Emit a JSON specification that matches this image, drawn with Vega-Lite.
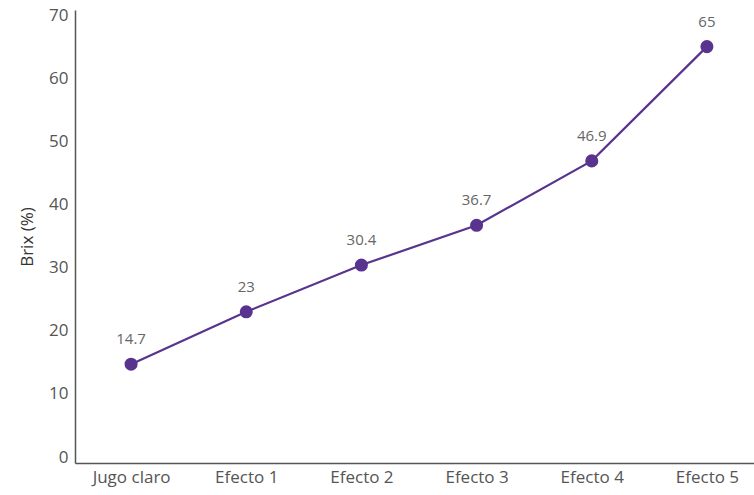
{
  "$schema": "https://vega.github.io/schema/vega-lite/v6.json",
  "autosize": {"type": "none"},
  "padding": {"left": 75, "top": 10, "right": 0, "bottom": 32},
  "width": 679,
  "height": 453,
  "background": "white",
  "config": {"view": {"stroke": null}, "font": "Open Sans"},
  "data": {"values": [
    {"etapa": "Jugo claro", "brix": 14.7},
    {"etapa": "Efecto 1", "brix": 23},
    {"etapa": "Efecto 2", "brix": 30.4},
    {"etapa": "Efecto 3", "brix": 36.7},
    {"etapa": "Efecto 4", "brix": 46.9},
    {"etapa": "Efecto 5", "brix": 65}
  ]},
  "encoding": {
    "x": {"field": "etapa", "type": "ordinal", "sort": null,
      "scale": {"type": "point", "padding": 0.487, "range": [0, 688]},
      "axis": {"title": null, "labelAngle": 0, "ticks": false, "labelFontSize": 17, "labelColor": "#555555", "labelFont": "Open Sans", "labelPadding": 6, "domainColor": "#555555", "domainWidth": 1.5, "grid": false}},
    "y": {"field": "brix", "type": "quantitative",
      "scale": {"domain": [-0.95, 70.8], "nice": false, "zero": false},
      "axis": {"title": "Brix (%)", "values": [0, 10, 20, 30, 40, 50, 60, 70], "ticks": false, "grid": false, "labelFontSize": 17, "labelColor": "#555555", "labelFont": "Open Sans", "labelPadding": 7, "domainColor": "#555555", "domainWidth": 1.5, "titleFontSize": 17, "titleFontWeight": "normal", "titleColor": "#333333", "titleFont": "Open Sans", "titlePadding": 12}}
  },
  "layer": [
    {"mark": {"type": "line", "color": "#58348f", "strokeWidth": 2.2}},
    {"mark": {"type": "circle", "color": "#58348f", "opacity": 1, "size": 170}},
    {"mark": {"type": "text", "dy": -25, "fontSize": 15, "color": "#666666", "font": "Open Sans"},
     "encoding": {"text": {"field": "brix", "type": "quantitative"}}}
  ]
}
